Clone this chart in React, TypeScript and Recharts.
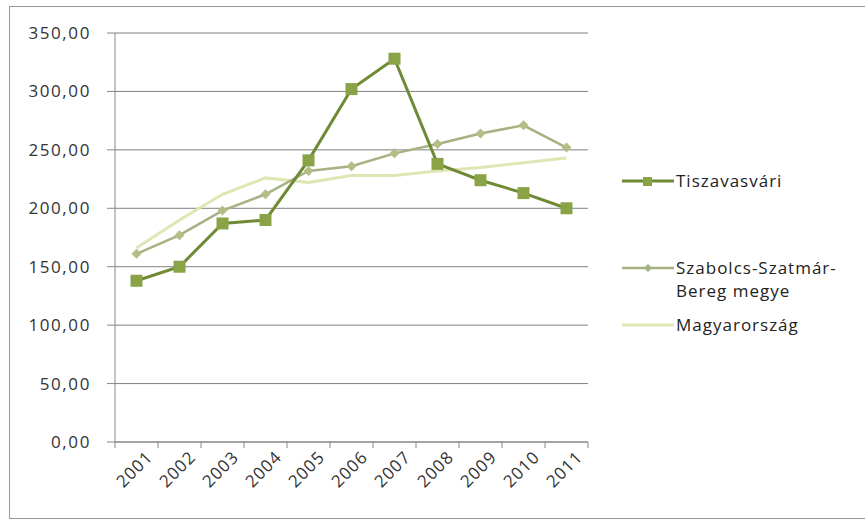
import React from "react"
import { LineChart, Line, XAxis, YAxis, CartesianGrid } from "recharts"

const years = ["2001", "2002", "2003", "2004", "2005", "2006", "2007", "2008", "2009", "2010", "2011"]
const tiszavasvari = [138, 150, 187, 190, 241, 302, 328, 238, 224, 213, 200]
const szabolcs = [161, 177, 198, 212, 232, 236, 247, 255, 264, 271, 252]
const magyarorszag = [166, 190, 212, 226, 222, 228, 228, 232, 235, 239, 243]
const yTicks = [0, 50, 100, 150, 200, 250, 300, 350]

const seriesNames = ["Tiszavasvári", "Szabolcs-Szatmár-Bereg megye", "Magyarország"]

const data = years.map((year, i) => ({
  year,
  t: tiszavasvari[i],
  s: szabolcs[i],
  m: magyarorszag[i],
}))

const FONT = "'Open Sans', 'Liberation Sans', sans-serif"
const BAND = 43

function XTick(props: any) {
  const { x, y, payload, index } = props
  return (
    <g>
      <line x1={x - BAND / 2} y1={y - 8} x2={x - BAND / 2} y2={y - 2} stroke="#888" />
      {index === years.length - 1 && (
        <line x1={x + BAND / 2} y1={y - 8} x2={x + BAND / 2} y2={y - 2} stroke="#888" />
      )}
      <text
        transform={`translate(${x + 14},${y + 5}) rotate(-45)`}
        textAnchor="end"
        dominantBaseline="middle"
        fontSize={17}
        letterSpacing={1}
        fill="#333"
        fontFamily={FONT}
      >
        {payload.value}
      </text>
    </g>
  )
}

function LegendBox() {
  const row = (label: React.ReactNode, top: number, sample: React.ReactNode) => (
    <div style={{ position: "absolute", left: 0, top, display: "flex", alignItems: "flex-start" }}>
      <svg width={56} height={22} style={{ marginTop: 1 }}>{sample}</svg>
      <span style={{ fontSize: 17, lineHeight: "23px", letterSpacing: 1, color: "#222", fontFamily: FONT }}>
        {label}
      </span>
    </div>
  )
  return (
    <div style={{ position: "absolute", left: 620, top: 169, width: 245, height: 180 }}>
      {row(
        seriesNames[0],
        0,
        <g>
          <line x1={2} y1={11} x2={54} y2={11} stroke="#6f8a35" strokeWidth={3} />
          <rect x={23} y={7} width={9} height={9} fill="#8aa347" />
        </g>
      )}
      {row(
        <>Szabolcs-Szatmár-<br />Bereg megye</>,
        87,
        <g>
          <line x1={2} y1={11} x2={54} y2={11} stroke="#a7b283" strokeWidth={2.5} />
          <polygon points="28,7 32,11 28,15 24,11" fill="#a7b283" />
        </g>
      )}
      {row(
        seriesNames[2],
        144,
        <line x1={2} y1={11} x2={54} y2={11} stroke="#dfe6b4" strokeWidth={3} />
      )}
    </div>
  )
}

export default function App() {
  return (
    <div style={{ position: "fixed", left: 0, top: 0, width: 865, height: 523, background: "#fff", overflow: "hidden" }}>
      <div
        style={{
          position: "absolute",
          left: 9,
          top: 6,
          width: 880,
          height: 511,
          border: "1px solid #999",
        }}
      />
      <LineChart
        width={865}
        height={523}
        data={data}
        margin={{ top: 33, right: 277, left: 0, bottom: 0 }}
        style={{ position: "absolute", left: 0, top: 0 }}
      >
        <CartesianGrid vertical={false} stroke="#808080" />
        <XAxis
          dataKey="year"
          height={81}
          stroke="#888"
          tickLine={false}
          tick={<XTick />}
          interval={0}
          padding={{ left: BAND / 2, right: BAND / 2 }}
        />
        <YAxis
          width={115}
          domain={[0, 350]}
          ticks={yTicks}
          stroke="#888"
          tickSize={8}
          tick={{ fontSize: 17, fill: "#333", fontFamily: FONT, letterSpacing: 1.6, dx: -14 }}
          tickFormatter={(v: number) => v.toFixed(2).replace(".", ",")}
        />
        <Line
          dataKey="m"
          name={seriesNames[2]}
          stroke="#dfe6b4"
          strokeWidth={3}
          dot={false}
          isAnimationActive={false}
        />
        <Line
          dataKey="s"
          name={seriesNames[1]}
          stroke="#a7b283"
          strokeWidth={2.5}
          dot={(p: any) => (
            <polygon
              key={p.index}
              points={`${p.cx},${p.cy - 5} ${p.cx + 5},${p.cy} ${p.cx},${p.cy + 5} ${p.cx - 5},${p.cy}`}
              fill="#b3be86"
            />
          )}
          isAnimationActive={false}
        />
        <Line
          dataKey="t"
          name={seriesNames[0]}
          stroke="#6f8a35"
          strokeWidth={3}
          dot={(p: any) => (
            <rect key={p.index} x={p.cx - 6} y={p.cy - 6} width={12} height={12} fill="#8aa347" />
          )}
          isAnimationActive={false}
        />
      </LineChart>
      <LegendBox />
    </div>
  )
}
